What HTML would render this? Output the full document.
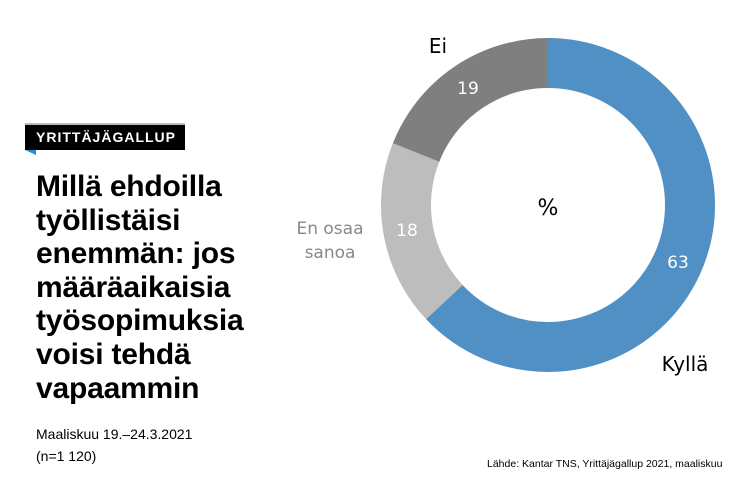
<!DOCTYPE html>
<html><head><meta charset="utf-8"><style>
body{margin:0;width:750px;height:499px;background:#fff;position:relative;overflow:hidden;font-family:"Liberation Sans",sans-serif}
.badge{position:absolute;left:25px;top:123px;width:160px;height:27px;background:#000;border-top:2px solid #bbb;box-sizing:border-box;color:#fff;font-weight:bold;font-size:14px;letter-spacing:1px;line-height:25px;padding-left:11px}
.tri{position:absolute;left:25px;top:150px;width:0;height:0;border-top:5px solid #1e90d8;border-left:11px solid transparent}
h1{position:absolute;left:36px;top:170px;margin:0;font-size:30px;line-height:33.6px;font-weight:bold;color:#000;letter-spacing:-0.2px}
.sub{position:absolute;left:36px;top:423px;font-size:14px;line-height:22px;color:#000}
.src{position:absolute;left:487px;top:458px;font-size:10.5px;color:#000}
</style></head><body>
<div class="badge">YRITTÄJÄGALLUP</div><div class="tri"></div>
<h1>Millä ehdoilla<br>työllistäisi<br>enemmän: jos<br>määräaikaisia<br>työsopimuksia<br>voisi tehdä<br>vapaammin</h1>
<div class="sub">Maaliskuu 19.–24.3.2021<br>(n=1 120)</div>
<div class="src">Lähde: Kantar TNS, Yrittäjägallup 2021, maaliskuu</div>
<svg width="750" height="499" style="position:absolute;left:0;top:0">
<g transform="rotate(-90 548 205)" fill="none" stroke-width="50">
<circle cx="548" cy="205" r="142" stroke="#5090c5" stroke-dasharray="562.1 900"/>
<circle cx="548" cy="205" r="142" stroke="#bdbdbd" stroke-dasharray="0 562.1 160.6 900"/>
<circle cx="548" cy="205" r="142" stroke="#7f7f7f" stroke-dasharray="0 722.7 169.5 900"/>
</g>
<g font-family="DejaVu Sans,sans-serif" font-size="17">
<text x="468" y="94" fill="#fff" text-anchor="middle">19</text>
<text x="407" y="236" fill="#fff" text-anchor="middle">18</text>
<text x="678" y="268" fill="#fff" text-anchor="middle">63</text>
<text x="548" y="215" fill="#000" text-anchor="middle" font-size="22">%</text>
<text x="438" y="53" fill="#000" text-anchor="middle" font-size="20">Ei</text>
<text x="685" y="371" fill="#000" text-anchor="middle" font-size="20">Kyllä</text>
<text x="330" y="234" fill="#888" text-anchor="middle" font-size="17">En osaa</text>
<text x="330" y="258" fill="#888" text-anchor="middle" font-size="17">sanoa</text>
</g>
</svg>
</body></html>
